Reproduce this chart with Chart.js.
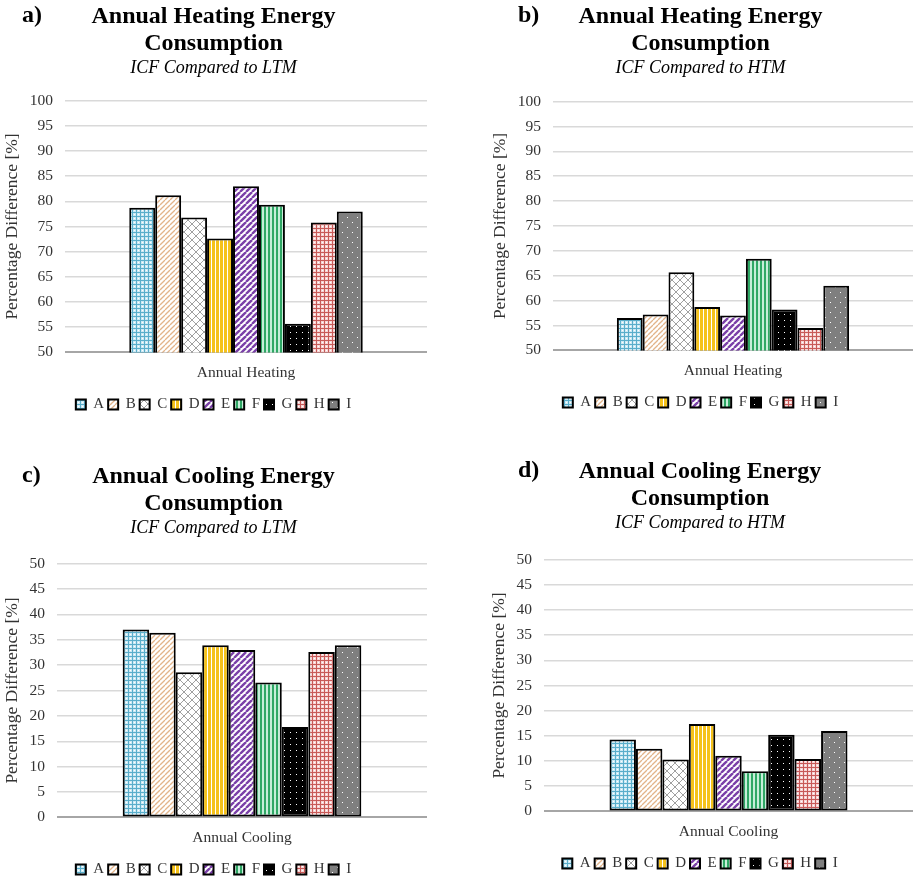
<!DOCTYPE html>
<html><head><meta charset="utf-8">
<script src="https://cdn.jsdelivr.net/npm/chart.js@4.4.0/dist/chart.umd.min.js"></script>
<style>
html,body{margin:0;padding:0;background:#fff}
body{width:914px;height:879px;position:relative;overflow:hidden}
canvas{position:absolute}
</style></head><body>
<canvas id="ca" width="444" height="440" style="left:0px;top:0px"></canvas>
<canvas id="cb" width="426" height="440" style="left:488px;top:0px"></canvas>
<canvas id="cc" width="444" height="430" style="left:0px;top:460px"></canvas>
<canvas id="cd" width="427" height="430" style="left:487px;top:455px"></canvas>
<script>
// ---- data ----
const seriesNames = ['A','B','C','D','E','F','G','H','I'];
const heatingCategory = ['Annual Heating'];
const coolingCategory = ['Annual Cooling'];
const heatingLTM = [78.7, 81.2, 76.8, 72.6, 83.0, 79.3, 55.7, 75.8, 78.0];
const heatingHTM = [56.5, 57.2, 65.7, 58.7, 57.0, 68.4, 58.2, 54.5, 63.0];
const coolingLTM = [37.0, 36.4, 28.6, 33.9, 33.0, 26.6, 17.8, 32.6, 33.9];
const coolingHTM = [14.3, 12.45, 10.3, 17.35, 11.05, 7.95, 15.2, 10.4, 15.95];
const heatingTicks = [50, 55, 60, 65, 70, 75, 80, 85, 90, 95, 100];
const coolingTicks = [0, 5, 10, 15, 20, 25, 30, 35, 40, 45, 50];
const heatingTitle = ['Annual Heating Energy', 'Consumption'];
const coolingTitle = ['Annual Cooling Energy', 'Consumption'];
const subtitleLTM = 'ICF Compared to LTM';
const subtitleHTM = 'ICF Compared to HTM';
const yAxisTitle = 'Percentage Difference [%]';

// ---- styles ----
const SERIF = '"Liberation Serif", "Times New Roman", serif';
function tile(w, h, draw) {
  const c = document.createElement('canvas');
  c.width = w; c.height = h;
  const g = c.getContext('2d');
  draw(g, w, h);
  return g.createPattern(c, 'repeat');
}
function diag(g, w, color, lw) {
  g.strokeStyle = color; g.lineWidth = lw;
  for (let o = -w; o <= w; o += w) {
    g.beginPath(); g.moveTo(o, w); g.lineTo(o + w, 0); g.stroke();
  }
}
const patterns = [
  tile(4, 4, g => { g.fillStyle = '#cbe9f4'; g.fillRect(0,0,4,4); g.fillStyle = '#5aaecb'; g.fillRect(0,0,4,1); g.fillRect(0,0,1,4); g.fillStyle='#ffffff'; g.fillRect(2,2,1,1); }),
  tile(5, 5, g => { g.fillStyle = '#ffffff'; g.fillRect(0,0,5,5); diag(g, 5, '#e2b48a', 1.3); }),
  tile(8, 8, g => { g.fillStyle = '#ffffff'; g.fillRect(0,0,8,8); g.strokeStyle = '#a0a0a0'; g.lineWidth = 1;
    g.beginPath(); g.moveTo(0,0); g.lineTo(8,8); g.moveTo(8,0); g.lineTo(0,8); g.stroke(); }),
  tile(4, 1, g => { g.fillStyle = '#ffffff'; g.fillRect(0,0,4,1); g.fillStyle = '#f5c21b'; g.fillRect(0,0,3,1); }),
  tile(6, 6, g => { g.fillStyle = '#ffffff'; g.fillRect(0,0,6,6); diag(g, 6, '#7a3fa8', 2.4); }),
  tile(4, 1, g => { g.fillStyle = '#c6eed9'; g.fillRect(0,0,4,1); g.fillStyle = '#2fa865'; g.fillRect(0,0,2,1); }),
  tile(6, 6, g => { g.fillStyle = '#000000'; g.fillRect(0,0,6,6); g.fillStyle = '#ffffff'; g.fillRect(2,2,1,1); }),
  tile(4, 4, g => { g.fillStyle = '#f6d3d3'; g.fillRect(0,0,4,4); g.fillStyle = '#c85a58'; g.fillRect(0,0,4,1); g.fillRect(0,0,1,4); g.fillStyle='#ffffff'; g.fillRect(2,2,1,1); }),
  tile(10, 10, g => { g.fillStyle = '#7f7f7f'; g.fillRect(0,0,10,10); g.fillStyle = '#ffffff'; g.fillRect(2,2,1,1); g.fillRect(7,7,1,1); })
];

const panelLetter = {
  id: 'panelLetter',
  afterDraw(chart, args, opts) {
    const c = chart.ctx;
    c.save();
    c.font = 'bold 24px ' + SERIF;
    c.fillStyle = '#000';
    c.textBaseline = 'middle';
    c.textAlign = 'left';
    c.fillText(opts.text, opts.x, opts.y);
    c.restore();
  }
};

function makeChart(id, p) {
  const datasets = seriesNames.map((name, i) => ({
    label: name,
    data: [p.values[i]],
    backgroundColor: patterns[i],
    borderColor: '#000000',
    borderWidth: 2,
    borderSkipped: false,
    categoryPercentage: 0.645,
    barPercentage: 1.0
  }));
  return new Chart(document.getElementById(id), {
    type: 'bar',
    data: { labels: p.labels, datasets },
    plugins: [panelLetter],
    options: {
      responsive: false,
      animation: false,
      devicePixelRatio: 1,
      layout: { padding: { left: 0, right: p.padRight, top: 0, bottom: p.padBottom } },
      plugins: {
        panelLetter: { text: p.letter, x: p.letterX, y: 16 },
        title: { display: true, text: p.title, color: '#000',
          font: { family: SERIF, size: 24, weight: 'bold', lineHeight: 1.1 },
          padding: { top: 4, bottom: 0 } },
        subtitle: { display: true, text: p.subtitle, color: '#000',
          font: { family: SERIF, size: 18, style: 'italic', lineHeight: 1.1 },
          padding: { top: 2, bottom: p.subPadBottom } },
        legend: { position: 'bottom',
          labels: { boxWidth: 10, boxHeight: 10, padding: 4, color: '#333333',
            font: { family: SERIF, size: 15 } } },
        tooltip: { enabled: false }
      },
      scales: {
        x: {
          grid: { display: false, drawTicks: false },
          border: { display: false },
          ticks: { color: '#333333', padding: 11, font: { family: SERIF, size: 15.5 } }
        },
        y: {
          min: p.ticks[0], max: p.ticks[p.ticks.length - 1],
          afterBuildTicks: s => { s.ticks = p.ticks.map(v => ({ value: v })); },
          afterFit: s => { s.width = p.yWidth; },
          grid: { drawTicks: false,
            color: c => (c.tick && c.tick.value === p.ticks[0]) ? '#a6a6a6' : '#d9d9d9',
            lineWidth: c => (c.tick && c.tick.value === p.ticks[0]) ? 2 : 1.5 },
          border: { display: false },
          ticks: { color: '#333333', padding: 12, font: { family: SERIF, size: 15.5 } },
          title: { display: true, text: yAxisTitle, color: '#333333', padding: { top: 2, bottom: 0 },
            font: { family: SERIF, size: 17.5 } }
        }
      }
    }
  });
}

makeChart('ca', { letter: 'a)', letterX: 22, title: heatingTitle, subtitle: subtitleLTM,
  labels: heatingCategory, values: heatingLTM, ticks: heatingTicks, yWidth: 65,
  padRight: 17, padBottom: 18, subPadBottom: 22 });
makeChart('cb', { letter: 'b)', letterX: 30, title: heatingTitle, subtitle: subtitleHTM,
  labels: heatingCategory, values: heatingHTM, ticks: heatingTicks, yWidth: 65,
  padRight: 1, padBottom: 20, subPadBottom: 23 });
makeChart('cc', { letter: 'c)', letterX: 22, title: coolingTitle, subtitle: subtitleLTM,
  labels: coolingCategory, values: coolingLTM, ticks: coolingTicks, yWidth: 57,
  padRight: 17, padBottom: 3, subPadBottom: 25 });
makeChart('cd', { letter: 'd)', letterX: 31, title: coolingTitle, subtitle: subtitleHTM,
  labels: coolingCategory, values: coolingHTM, ticks: coolingTicks, yWidth: 57,
  padRight: 1, padBottom: 4, subPadBottom: 26 });
</script>
</body></html>
